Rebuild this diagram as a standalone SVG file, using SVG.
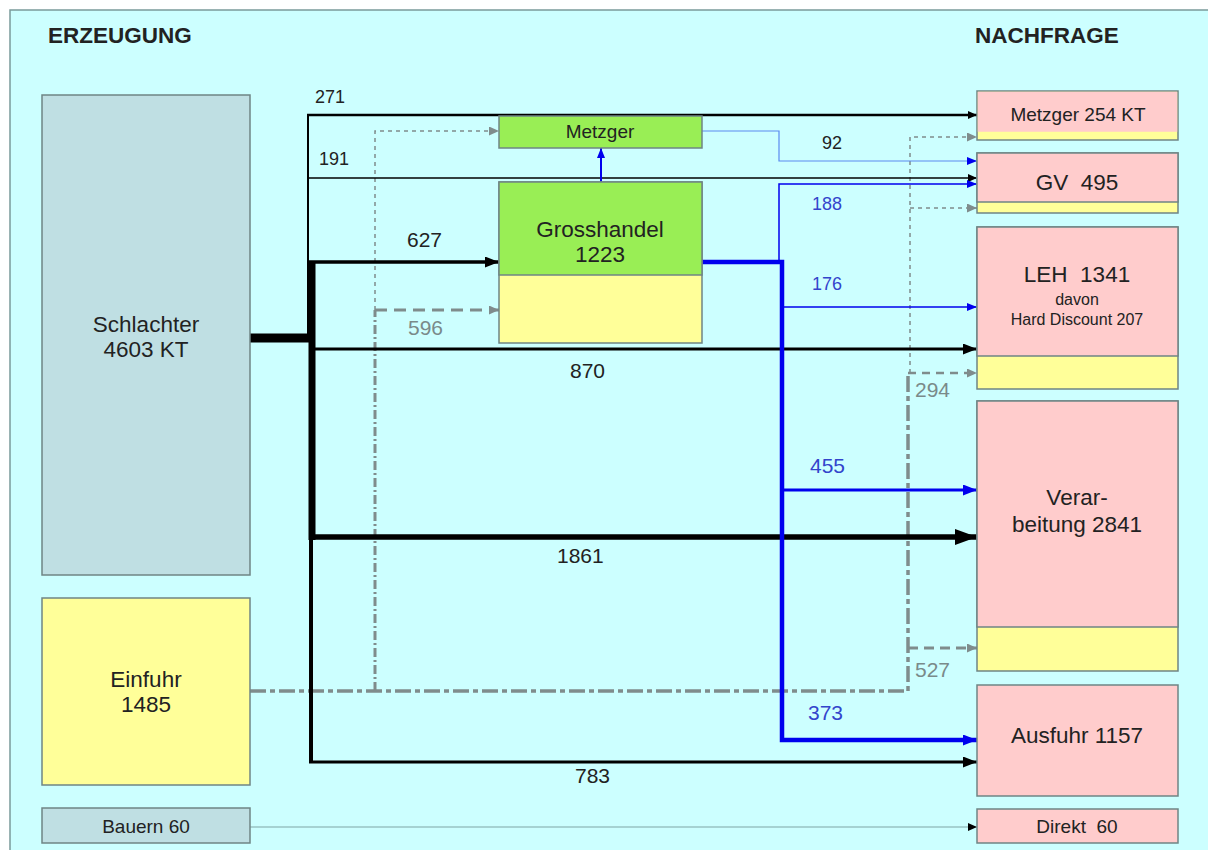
<svg xmlns="http://www.w3.org/2000/svg" width="1208" height="850" viewBox="0 0 1208 850" xml:space="preserve">
<defs>
<style>
text{font-family:"Liberation Sans",Arial,sans-serif;fill:#222;white-space:pre}
.c{text-anchor:middle}
.big{font-size:22.5px}
.med{font-size:19px}
.sm{font-size:16px}
.title{font-size:22.5px;font-weight:bold}
.lbl{font-size:21px}
.lblS{font-size:18px}
.blue{fill:#3344CC}
.gray{fill:#7A8A8A}
.box{stroke:#6F8585;stroke-width:1.5}
.sl{fill:#BFDFE3}
.ye{fill:#FFFF99}
.gr{fill:#99EE55}
.pk{fill:#FFCCCC}
.k{fill:none;stroke:#000}
.b{fill:none;stroke:#0000EE}
.g{fill:none;stroke:#7F8C8C}
</style>
<marker id="aK" markerUnits="userSpaceOnUse" markerWidth="14" markerHeight="11" refX="14" refY="5.5" orient="auto"><path d="M0,0L14,5.5L0,11z" fill="#000"/></marker>
<marker id="aKL" markerUnits="userSpaceOnUse" markerWidth="22" markerHeight="16" refX="22" refY="8" orient="auto"><path d="M0,0L22,8L0,16z" fill="#000"/></marker>
<marker id="aKS" markerUnits="userSpaceOnUse" markerWidth="9" markerHeight="8" refX="9" refY="4" orient="auto"><path d="M0,0L9,4L0,8z" fill="#000"/></marker>
<marker id="aB" markerUnits="userSpaceOnUse" markerWidth="14" markerHeight="11" refX="14" refY="5.5" orient="auto"><path d="M0,0L14,5.5L0,11z" fill="#0000EE"/></marker>
<marker id="aBS" markerUnits="userSpaceOnUse" markerWidth="10" markerHeight="8" refX="10" refY="4" orient="auto"><path d="M0,0L10,4L0,8z" fill="#0000EE"/></marker>
<marker id="aG" markerUnits="userSpaceOnUse" markerWidth="10" markerHeight="9" refX="10" refY="4.5" orient="auto"><path d="M0,0L10,4.5L0,9z" fill="#7F8C8C"/></marker>
</defs>
<rect x="0" y="0" width="1208" height="850" fill="#FFFFFF"/>
<rect x="10" y="10" width="1205" height="850" fill="#CCFFFF" stroke="#7A9A9A" stroke-width="1.5"/>
<text class="title" x="48" y="43">ERZEUGUNG</text>
<text class="title" x="975" y="43">NACHFRAGE</text>

<g id="connectors">
  <!-- Einfuhr grey flows -->
  <path class="g" d="M250,691 L908,691 L908,373" stroke-width="3.5" stroke-dasharray="16,4,5,4"/>
  <path class="g" d="M908,648 L977,648" stroke-width="3" stroke-dasharray="10,6" marker-end="url(#aG)"/>
  <path class="g" d="M908,373 L977,373" stroke-width="2.5" stroke-dasharray="8,6" marker-end="url(#aG)"/>
  <path class="g" d="M910,373 L910,137 L977,137" stroke-width="1.5" stroke-dasharray="4,4" marker-end="url(#aG)"/>
  <path class="g" d="M910,208 L977,208" stroke-width="1.5" stroke-dasharray="4,4" marker-end="url(#aG)"/>
  <path class="g" d="M375,691 L375,310" stroke-width="3" stroke-dasharray="9,3,2,3"/>
  <path class="g" d="M375,310 L375,131 L499,131" stroke-width="1.5" stroke-dasharray="4,4" marker-end="url(#aG)"/>
  <path class="g" d="M375,310 L499,310" stroke-width="3" stroke-dasharray="12,7" marker-end="url(#aG)"/>

  <!-- Schlachter black flows -->
  <path class="k" d="M250,338 L312,338" stroke-width="9"/>
  <path class="k" d="M312,262 L312,540" stroke-width="7"/>
  <path class="k" d="M311,537 L311,762" stroke-width="4"/>
  <path class="k" d="M308,338 L308,115" stroke-width="2"/>
  <path class="k" d="M307,115 L977,115" stroke-width="2.5" marker-end="url(#aKS)"/>
  <path class="k" d="M307,178 L977,178" stroke-width="1.5" marker-end="url(#aKS)"/>
  <path class="k" d="M309,262 L499,262" stroke-width="3.5" marker-end="url(#aK)"/>
  <path class="k" d="M312,349 L977,349" stroke-width="3" marker-end="url(#aK)"/>
  <path class="k" d="M312,537 L977,537" stroke-width="5.5" marker-end="url(#aKL)"/>
  <path class="k" d="M309,762 L977,762" stroke-width="3" marker-end="url(#aK)"/>

  <!-- Bauern -> Direkt -->
  <path d="M250,827 L977,827" fill="none" stroke="#7FA5A5" stroke-width="1" marker-end="url(#aKS)"/>

  <!-- Grosshandel blue flows -->
  <path class="b" d="M601,182 L601,148" stroke-width="2" marker-end="url(#aBS)"/>
  <path d="M702,131 L779,131 L779,161 L977,161" fill="none" stroke="#5A8AF0" stroke-width="1.2" marker-end="url(#aBS)"/>
  <path class="b" d="M702,262 L782,262 L782,740 L977,740" stroke-width="4.5" marker-end="url(#aB)"/>
  <path class="b" d="M779,262 L779,184 L977,184" stroke-width="1.5" marker-end="url(#aBS)"/>
  <path class="b" d="M782,307 L977,307" stroke-width="1.5" marker-end="url(#aBS)"/>
  <path class="b" d="M782,490 L977,490" stroke-width="3" marker-end="url(#aB)"/>

  <!-- labels -->
  <text class="lblS" x="315" y="103">271</text>
  <text class="lblS" x="319" y="165">191</text>
  <text class="lbl" x="407" y="247">627</text>
  <text class="lbl gray" x="408" y="335">596</text>
  <text class="lbl" x="570" y="378">870</text>
  <text class="lbl" x="557" y="563">1861</text>
  <text class="lbl" x="575" y="783">783</text>
  <text class="lblS" x="822" y="149">92</text>
  <text class="lblS blue" x="812" y="210">188</text>
  <text class="lblS blue" x="812" y="290">176</text>
  <text class="lbl blue" x="810" y="473">455</text>
  <text class="lbl blue" x="808" y="720">373</text>
  <text class="lbl gray" x="915" y="397">294</text>
  <text class="lbl gray" x="915" y="677">527</text>
</g>

<g id="schlachter">
  <rect class="box sl" x="42" y="95" width="208" height="480"/>
  <text class="big c" x="146" y="332">Schlachter</text>
  <text class="big c" x="146" y="357">4603 KT</text>
</g>
<g id="einfuhr">
  <rect class="box ye" x="42" y="598" width="208" height="187"/>
  <text class="big c" x="146" y="687">Einfuhr</text>
  <text class="big c" x="146" y="712">1485</text>
</g>
<g id="bauern">
  <rect class="box sl" x="42" y="808" width="208" height="35"/>
  <text class="med c" x="146" y="833">Bauern 60</text>
</g>
<g id="metzger-mid">
  <rect class="box gr" x="499" y="116" width="203" height="32"/>
  <text class="med c" x="600" y="138">Metzger</text>
</g>
<g id="grosshandel">
  <rect class="box ye" x="499" y="182" width="203" height="161"/>
  <rect class="box gr" x="499" y="182" width="203" height="93"/>
  <text class="big c" x="600" y="237">Grosshandel</text>
  <text class="big c" x="600" y="262">1223</text>
</g>
<g id="metzger-254">
  <rect class="box ye" x="977" y="91" width="201" height="49"/>
  <rect x="977.75" y="91.75" width="199.5" height="40" class="pk"/>
  <text class="med c" x="1078" y="121">Metzger 254 KT</text>
</g>
<g id="gv">
  <rect class="box ye" x="977" y="153" width="201" height="60"/>
  <rect class="box pk" x="977" y="153" width="201" height="49"/>
  <text class="big c" x="1077" y="190">GV  495</text>
</g>
<g id="leh">
  <rect class="box ye" x="977" y="227" width="201" height="162"/>
  <rect class="box pk" x="977" y="227" width="201" height="129"/>
  <text class="big c" x="1077" y="282">LEH  1341</text>
  <text class="sm c" x="1077" y="305">davon</text>
  <text class="sm c" x="1077" y="325">Hard Discount 207</text>
</g>
<g id="verarbeitung">
  <rect class="box ye" x="977" y="401" width="201" height="270"/>
  <rect class="box pk" x="977" y="401" width="201" height="226"/>
  <text class="big c" x="1077" y="505">Verar-</text>
  <text class="big c" x="1077" y="532">beitung 2841</text>
</g>
<g id="ausfuhr">
  <rect class="box pk" x="977" y="685" width="201" height="111"/>
  <text class="big c" x="1077" y="743">Ausfuhr 1157</text>
</g>
<g id="direkt">
  <rect class="box pk" x="977" y="809" width="201" height="34"/>
  <text class="med c" x="1077" y="833">Direkt  60</text>
</g>
</svg>
